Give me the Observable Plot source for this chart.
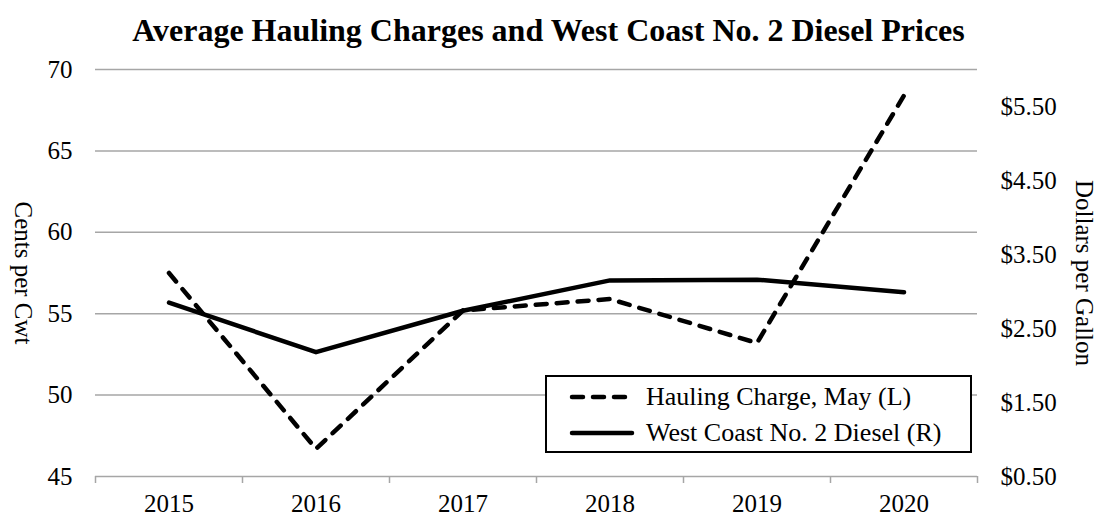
<!DOCTYPE html>
<html>
<head>
<meta charset="utf-8">
<script src="https://cdn.jsdelivr.net/npm/d3@7"></script>
<script src="https://cdn.jsdelivr.net/npm/@observablehq/plot@0.6"></script>
<style>
  html, body { margin: 0; padding: 0; background: #fff; }
  body { width: 1097px; height: 521px; position: relative; overflow: hidden; font-family: "Liberation Serif", "Times New Roman", serif; }
  #title { height: 55px; line-height: 60px; text-align: center; font-weight: bold; font-size: 32px; color: #000; }
  #legend { position: absolute; left: 545px; top: 375px; width: 423px; height: 74px; border: 2px solid #000; background: #fff; box-sizing: content-box; }
  #legend .row { position: absolute; left: 0; height: 36px; display: flex; align-items: center; font-size: 26px; white-space: nowrap; }
  #legend svg { margin-left: 22px; margin-right: 11px; }
</style>
</head>
<body>
<div id="title">Average Hauling Charges and West Coast No. 2 Diesel Prices</div>
<div id="chart"></div>
<div id="legend">
  <div class="row" style="top:2px"><svg width="66" height="10"><line x1="3" x2="63" y1="5" y2="5" stroke="#000" stroke-width="4.5" stroke-dasharray="11,10" stroke-linecap="round"/></svg>Hauling Charge, May (L)</div>
  <div class="row" style="top:38px"><svg width="66" height="10"><line x1="3" x2="63" y1="5" y2="5" stroke="#000" stroke-width="4.5" stroke-linecap="round"/></svg>West Coast No. 2 Diesel (R)</div>
</div>
<script>
const years = [2015, 2016, 2017, 2018, 2019, 2020];
const hauling = [57.5, 46.7, 55.2, 55.9, 53.2, 68.4];      // cents per cwt (left axis)
const diesel = [2.85, 2.18, 2.74, 3.15, 3.16, 2.99];       // dollars per gallon (right axis)
const leftTicks = [45, 50, 55, 60, 65, 70];
const rightTicks = [0.5, 1.5, 2.5, 3.5, 4.5, 5.5];
const leftDomain = [45, 70];
const rightDomain = [0.5, 6.0];
const xBounds = [2014.5, 2015.5, 2016.5, 2017.5, 2018.5, 2019.5, 2020.5];

const toLeft = v => leftDomain[0] + (v - rightDomain[0]) * (leftDomain[1] - leftDomain[0]) / (rightDomain[1] - rightDomain[0]);
const fromLeft = v => rightDomain[0] + (v - leftDomain[0]) * (rightDomain[1] - rightDomain[0]) / (leftDomain[1] - leftDomain[0]);

const haulData = years.map((y, i) => ({year: y, value: hauling[i]}));
const dieselData = years.map((y, i) => ({year: y, value: toLeft(diesel[i])}));

const grey = "#a6a6a6";
const font = "Liberation Serif, Times New Roman, serif";

const chart = Plot.plot({
  width: 1097,
  height: 466,
  marginLeft: 95,
  marginRight: 120,
  marginTop: 14,
  marginBottom: 45,
  style: {fontFamily: font, fontSize: "25px", color: "#000", background: "#fff", overflow: "visible"},
  x: {domain: [xBounds[0], xBounds[xBounds.length - 1]], axis: null},
  y: {domain: leftDomain, axis: null},
  marks: [
    Plot.ruleY(leftTicks, {stroke: grey, strokeWidth: 1.5}),
    Plot.axisX({ticks: xBounds, tickSize: 7, tickFormat: () => "", stroke: grey, strokeWidth: 1.5, strokeOpacity: 1, label: null}),
    Plot.axisX({ticks: years, tickSize: 0, tickPadding: 18, tickFormat: d => String(d), fontSize: 25, label: null}),
    Plot.axisY({anchor: "left", ticks: leftTicks, tickSize: 0, tickPadding: 23, tickFormat: d => String(d), fontSize: 25, label: null}),
    Plot.axisY({anchor: "right", ticks: rightTicks.map(toLeft), tickSize: 0, tickPadding: 23,
      tickFormat: d => "$" + fromLeft(d).toFixed(2), fontSize: 25, label: null}),
    Plot.text(["Cents per Cwt"], {frameAnchor: "left", textAnchor: "middle", dx: -73, rotate: 90, fontSize: 25, fill: "#000"}),
    Plot.text(["Dollars per Gallon"], {frameAnchor: "right", textAnchor: "middle", dx: 106, rotate: 90, fontSize: 25, fill: "#000"}),
    Plot.line(dieselData, {x: "year", y: "value", stroke: "#000", strokeWidth: 4.5, strokeLinecap: "round", strokeLinejoin: "round"}),
    Plot.line(haulData, {x: "year", y: "value", stroke: "#000", strokeWidth: 4.5, strokeDasharray: "11,10", strokeLinecap: "round", strokeLinejoin: "round"})
  ]
});
document.getElementById("chart").appendChild(chart);
</script>
</body>
</html>
